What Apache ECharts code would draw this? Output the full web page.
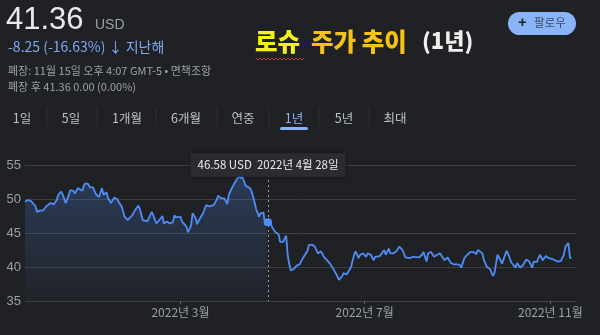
<!DOCTYPE html>
<html>
<head>
<meta charset="utf-8">
<script src="https://cdn.jsdelivr.net/npm/echarts@6/dist/echarts.min.js"></script>
<style>
html,body{margin:0;padding:0;background:#202124;}
#chart{width:600px;height:335px;}
</style>
</head>
<body>
<div id="chart"></div>
<script>
const dates = [
'2021-11-18','2021-11-20','2021-11-22','2021-11-25','2021-11-26','2021-11-28','2021-11-30',
'2021-12-02','2021-12-05','2021-12-07','2021-12-09','2021-12-10','2021-12-11','2021-12-12','2021-12-13','2021-12-15','2021-12-17','2021-12-18','2021-12-20','2021-12-21','2021-12-23','2021-12-24','2021-12-26','2021-12-27','2021-12-28','2021-12-30','2021-12-31',
'2022-01-02','2022-01-04','2022-01-06','2022-01-08','2022-01-09','2022-01-11','2022-01-12','2022-01-14','2022-01-16','2022-01-18','2022-01-19','2022-01-21','2022-01-23','2022-01-25','2022-01-28','2022-01-30',
'2022-02-01','2022-02-02','2022-02-04','2022-02-07','2022-02-08','2022-02-10','2022-02-11','2022-02-13','2022-02-15','2022-02-17','2022-02-18','2022-02-20','2022-02-22','2022-02-24','2022-02-25','2022-02-26',
'2022-03-01','2022-03-02','2022-03-05','2022-03-06','2022-03-08','2022-03-09','2022-03-11','2022-03-12','2022-03-14','2022-03-16','2022-03-17','2022-03-18','2022-03-20','2022-03-23','2022-03-25','2022-03-26','2022-03-28','2022-03-30',
'2022-04-01','2022-04-02','2022-04-04','2022-04-05','2022-04-07','2022-04-09','2022-04-10','2022-04-11','2022-04-13','2022-04-14','2022-04-16','2022-04-17','2022-04-19','2022-04-20','2022-04-22','2022-04-23','2022-04-25','2022-04-26','2022-04-27','2022-04-28','2022-04-30',
'2022-05-01','2022-05-03','2022-05-05','2022-05-06','2022-05-08','2022-05-09','2022-05-10','2022-05-11','2022-05-12','2022-05-13','2022-05-15','2022-05-17','2022-05-19','2022-05-21','2022-05-24','2022-05-25','2022-05-27','2022-05-29','2022-05-31',
'2022-06-02','2022-06-04','2022-06-06','2022-06-08','2022-06-10','2022-06-13','2022-06-14','2022-06-16','2022-06-17','2022-06-19','2022-06-21','2022-06-22','2022-06-24','2022-06-25','2022-06-27','2022-06-28','2022-06-30',
'2022-07-02','2022-07-03','2022-07-05','2022-07-07','2022-07-08','2022-07-11','2022-07-12','2022-07-14','2022-07-15','2022-07-17','2022-07-18','2022-07-20','2022-07-22','2022-07-24','2022-07-26','2022-07-28','2022-07-31',
'2022-08-02','2022-08-03','2022-08-06','2022-08-08','2022-08-09','2022-08-11','2022-08-12','2022-08-14','2022-08-16','2022-08-18','2022-08-20','2022-08-22','2022-08-23','2022-08-25','2022-08-27','2022-08-29','2022-08-31',
'2022-09-02','2022-09-03','2022-09-05','2022-09-07','2022-09-09','2022-09-11','2022-09-13','2022-09-14','2022-09-17','2022-09-18','2022-09-20','2022-09-22','2022-09-24','2022-09-25','2022-09-27','2022-09-29','2022-09-30',
'2022-10-01','2022-10-03','2022-10-05','2022-10-06','2022-10-09','2022-10-10','2022-10-12','2022-10-14','2022-10-16','2022-10-18','2022-10-20','2022-10-21','2022-10-23','2022-10-25','2022-10-26','2022-10-27','2022-10-29','2022-10-31',
'2022-11-02','2022-11-04','2022-11-06','2022-11-08','2022-11-10','2022-11-11','2022-11-13','2022-11-14','2022-11-15'
];
const prices = [
49.6,49.85,49.7,48.9,48.1,48.3,48.3,
48.9,49.4,49.2,49.85,50.6,50.5,51.1,50.6,49.4,50.6,51.3,51.2,50.8,51.6,51.6,51.2,52.0,52.3,52.2,51.7,
51.7,50.7,50.3,51.6,50.6,51.0,50.1,49.4,50.2,50.0,49.6,48.9,47.4,46.9,47.6,48.4,
49.0,48.6,46.9,46.7,46.9,48.1,47.6,46.4,46.9,47.5,46.4,46.7,46.4,46.6,47.6,47.3,
47.4,46.7,45.9,45.1,46.1,47.9,47.2,46.3,47.2,47.9,48.0,49.1,48.9,49.1,49.9,50.5,50.1,50.1,
49.3,50.6,51.6,51.8,52.8,53.4,53.0,53.3,52.0,52.2,51.6,51.2,49.6,48.6,47.4,47.9,48.0,46.2,46.8,46.58,46.2,
45.7,45.1,44.8,43.7,43.7,43.5,44.6,41.8,40.5,39.5,39.7,40.2,40.4,41.3,42.3,43.2,43.3,43.0,42.0,
42.3,41.5,41.0,40.5,39.8,38.6,38.1,38.6,39.1,38.9,39.6,40.0,41.8,42.3,41.3,41.8,42.0,
41.5,42.0,41.8,41.0,41.5,41.6,41.5,42.5,41.8,42.7,42.0,42.0,42.3,43.0,42.5,41.4,41.3,
41.5,41.3,41.4,41.8,42.2,40.8,42.0,42.2,41.5,41.8,42.0,41.3,41.0,41.4,40.6,40.4,40.4,
40.3,39.9,41.3,41.8,42.2,42.2,41.9,42.5,42.0,41.0,40.0,39.7,38.7,39.1,41.8,41.0,40.5,
40.4,42.4,41.4,40.7,39.9,40.6,39.9,40.3,41.1,40.8,39.9,40.8,40.7,41.8,41.7,41.0,41.6,41.3,
41.2,41.0,40.8,40.9,41.8,43.0,43.5,41.3,41.36
];
const yTicks = [35, 40, 45, 50, 55];
const xTickDates = ['2022-03-01','2022-07-01','2022-11-01'];
const xTickLabels = ['2022년 3월','2022년 7월','2022년 11월'];
const hoverDate = '2022-04-28';
const hoverLabelDate = '2022년 4월 28일';
const tabs = ['1일','5일','1개월','6개월','연중','1년','5년','최대'];
const axisRange = ['2021-11-18','2022-11-18'];

function ts(s){const p=s.split('-').map(Number);return new Date(p[0],p[1]-1,p[2]).getTime();}
const seriesData = dates.map((d,i)=>[ts(d), prices[i]]);
const hoverIdx = dates.indexOf(hoverDate);
const hoverVal = prices[hoverIdx];
const tickTs = xTickDates.map(ts);

const FONT = 'Arial, "Liberation Sans", "Noto Sans CJK KR", sans-serif';
const KFONT = '"Noto Sans CJK KR", Arial, sans-serif';

const tabX = [22, 71, 127, 186, 243, 294, 344, 395];
const sepX = [47, 97, 156, 217, 269, 319, 369];
const graphics = [
  {type:'text', left:6, top:5, style:{text:'41.36', font:'31px '+FONT, fill:'#e8eaed'}},
  {type:'text', left:95, top:18, style:{text:'USD', font:'14px '+FONT, fill:'#9aa0a6'}},
  {type:'text', left:8, top:40, style:{text:'-8.25 (-16.63%) ↓ 지난해', font:'14px '+KFONT, fill:'#7ea8f2'}},
  {type:'text', left:8, top:65, style:{text:'폐장: 11월 15일 오후 4:07 GMT-5 • 면책조항', font:'11px '+KFONT, fill:'#9aa0a6'}},
  {type:'text', left:8, top:81, style:{text:'폐장 후 41.36 0.00 (0.00%)', font:'11px '+KFONT, fill:'#9aa0a6'}},
  {type:'text', left:255, top:29, style:{text:'로슈', font:'900 24.5px '+KFONT, fill:'#f2f21e'}},
  {type:'text', left:311, top:29, style:{text:'주가 추이', font:'900 24.5px '+KFONT, fill:'#f5c316'}},
  {type:'text', left:422, top:30, style:{text:'(1년)', font:'900 22px '+KFONT, fill:'#eeeeee'}},
  {type:'polyline', shape:{points:[[256,58],[258,60],[260,58],[262,60],[264,58],[266,60],[268,58],[270,60],[272,58],[274,60],[276,58],[278,60],[280,58],[282,60],[284,58],[286,60],[288,58],[290,60],[292,58],[294,60],[296,58],[298,60],[300,58],[302,60],[304,58]]}, style:{stroke:'#b04040', lineWidth:1, fill:null}},
  {type:'rect', shape:{x:508, y:12, width:68, height:23, r:11.5}, style:{fill:'#8ab4f8'}},
  {type:'text', left:518, top:15, style:{text:'+', font:'bold 15px '+FONT, fill:'#202124'}},
  {type:'text', left:534, top:17, style:{text:'팔로우', font:'11.5px '+KFONT, fill:'#3a4a66'}},
  {type:'rect', shape:{x:280, y:127, width:28, height:3, r:1.5}, style:{fill:'#8ab4f8'}}
];
tabs.forEach((t,i)=>{
  graphics.push({type:'text', x:tabX[i], y:118, style:{text:t, font:'12.5px '+KFONT, fill: t==='1년' ? '#8ab4f8' : '#bdc1c6', textAlign:'center', textVerticalAlign:'middle'}});
});
sepX.forEach(x=>{
  graphics.push({type:'line', shape:{x1:x, y1:108, x2:x, y2:127}, style:{stroke:'#303134', lineWidth:1}});
});

const chart = echarts.init(document.getElementById('chart'));
chart.setOption({
  backgroundColor:'#202124',
  animation:false,
  graphic: graphics,
  grid:{left:25, right:24, top:165, bottom:34},
  xAxis:{
    type:'value',
    min: ts(axisRange[0]), max: ts(axisRange[1]),
    axisLine:{show:false},
    splitLine:{show:false},
    axisTick:{show:true, customValues: tickTs, length:3, lineStyle:{color:'#5f6368'}},
    axisLabel:{
      customValues: tickTs,
      margin:5,
      color:'#9aa0a6', fontSize:12, fontFamily:KFONT,
      formatter:function(v){const i=tickTs.indexOf(v);return i>=0?xTickLabels[i]:'';}
    }
  },
  yAxis:{
    type:'value', min:yTicks[0], max:yTicks[yTicks.length-1], interval:5,
    axisLine:{show:false}, axisTick:{show:false},
    splitLine:{lineStyle:{color:'#3c4043', width:1}},
    axisLabel:{color:'#9aa0a6', fontSize:13, fontFamily:FONT, margin:4}
  },
  series:[
    {
      type:'line', data: seriesData.slice(0, hoverIdx+1), showSymbol:false,
      lineStyle:{width:0, opacity:0}, silent:true, z:1,
      areaStyle:{origin:'start', color:new echarts.graphic.LinearGradient(0,0,0,1,[
        {offset:0, color:'rgba(74,138,244,0.36)'},
        {offset:1, color:'rgba(74,138,244,0.03)'}
      ])}
    },
    {
      type:'line', data: seriesData, showSymbol:false, z:3,
      lineStyle:{width:1.8, color:'#4d8df5'},
      itemStyle:{color:'#4d8df5'},
      markLine:{
        silent:true, symbol:'none',
        lineStyle:{type:[2,3], color:'#9aa0a6', width:1},
        label:{show:false},
        data:[[{coord:[ts(hoverDate), yTicks[yTicks.length-1]]},{coord:[ts(hoverDate), yTicks[0]]}]]
      },
      markPoint:{
        silent:true, z:10,
        data:[
          {coord:[ts(hoverDate), hoverVal], symbol:'circle', symbolSize:8, itemStyle:{color:'#4d8df5'}, label:{show:false}},
          {coord:[ts(hoverDate), yTicks[yTicks.length-1]], symbol:'rect', symbolSize:0,
           label:{show:true, position:'inside', formatter: hoverVal.toFixed(2)+' USD  '+hoverLabelDate,
             color:'#e8eaed', fontSize:11.5, fontFamily:KFONT, backgroundColor:'#2b2c2f', padding:[6,7,6,7],
             shadowColor:'rgba(0,0,0,0.4)', shadowBlur:4}}
        ]
      }
    }
  ]
});
</script>
</body>
</html>
